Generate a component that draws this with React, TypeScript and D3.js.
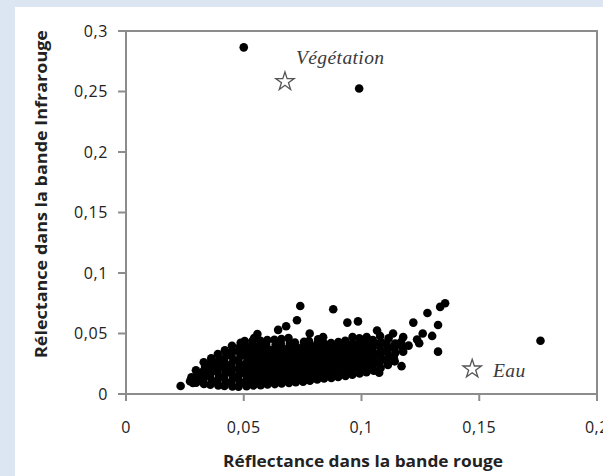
import React from "react";
import * as d3 from "d3";

const W = 603;
const H = 476;

const xTicks = [0, 0.05, 0.1, 0.15, 0.2];
const xTickLabels = ["0", "0,05", "0,1", "0,15", "0,2"];
const yTicks = [0, 0.05, 0.1, 0.15, 0.2, 0.25, 0.3];
const yTickLabels = ["0", "0,05", "0,1", "0,15", "0,2", "0,25", "0,3"];

const xTitle = "Réflectance dans la bande rouge";
const yTitle = "Rélectance dans la bande Infrarouge";

// outliers
const outliers: [number, number][] = [
  [0.0500, 0.2865],
  [0.0990, 0.2525],
  [0.1760, 0.0440],
];

// annotations (stars)
const starNames = ["Végétation", "Eau"];
const starX = [0.0675, 0.1470];
const starY = [0.2590, 0.0215];

// dense cloud of pixels
const cluster: [number, number][] = [
  [0.0232,0.0066],
  [0.0272,0.0105],[0.0278,0.0138],[0.0284,0.0092],
  [0.0298,0.0094],[0.0303,0.0128],[0.0306,0.0163],[0.0297,0.0196],
  [0.0331,0.0083],[0.0327,0.0118],[0.0335,0.0154],[0.0329,0.0190],[0.0336,0.0226],[0.0330,0.0262],
  [0.0358,0.0076],[0.0364,0.0111],[0.0356,0.0147],[0.0361,0.0184],[0.0366,0.0221],[0.0359,0.0257],[0.0362,0.0296],
  [0.0392,0.0071],[0.0386,0.0106],[0.0395,0.0142],[0.0389,0.0179],[0.0391,0.0215],[0.0387,0.0251],[0.0396,0.0289],[0.0390,0.0331],
  [0.0418,0.0066],[0.0423,0.0101],[0.0416,0.0137],[0.0425,0.0173],[0.0419,0.0210],[0.0421,0.0247],[0.0417,0.0284],[0.0426,0.0321],[0.0420,0.0362],
  [0.0452,0.0062],[0.0447,0.0098],[0.0455,0.0134],[0.0449,0.0170],[0.0451,0.0207],[0.0446,0.0243],[0.0456,0.0280],[0.0448,0.0317],[0.0453,0.0354],[0.0450,0.0398],
  [0.0478,0.0061],[0.0484,0.0096],[0.0476,0.0131],[0.0485,0.0167],[0.0479,0.0204],[0.0482,0.0240],[0.0477,0.0277],[0.0486,0.0314],[0.0480,0.0351],[0.0483,0.0389],[0.0487,0.0424],
  [0.0512,0.0064],[0.0507,0.0100],[0.0515,0.0136],[0.0509,0.0172],[0.0511,0.0208],[0.0506,0.0245],[0.0516,0.0282],[0.0508,0.0319],[0.0513,0.0356],[0.0510,0.0394],[0.0504,0.0438],
  [0.0541,0.0070],[0.0536,0.0106],[0.0544,0.0143],[0.0539,0.0180],[0.0542,0.0216],[0.0535,0.0253],[0.0545,0.0290],[0.0538,0.0327],[0.0543,0.0363],[0.0540,0.0400],[0.0537,0.0437],[0.0544,0.0462],
  [0.0572,0.0072],[0.0567,0.0108],[0.0575,0.0145],[0.0569,0.0182],[0.0573,0.0219],[0.0566,0.0256],[0.0576,0.0292],[0.0570,0.0330],[0.0574,0.0366],[0.0568,0.0404],[0.0571,0.0440],[0.0558,0.0495],
  [0.0601,0.0078],[0.0596,0.0113],[0.0604,0.0150],[0.0598,0.0187],[0.0603,0.0224],[0.0597,0.0260],[0.0605,0.0297],[0.0599,0.0334],[0.0602,0.0371],[0.0595,0.0408],[0.0600,0.0445],
  [0.0632,0.0082],[0.0627,0.0118],[0.0634,0.0155],[0.0629,0.0192],[0.0633,0.0229],[0.0626,0.0265],[0.0635,0.0302],[0.0628,0.0339],[0.0631,0.0376],[0.0636,0.0412],[0.0630,0.0448],
  [0.0661,0.0088],[0.0656,0.0124],[0.0664,0.0161],[0.0658,0.0198],[0.0663,0.0234],[0.0655,0.0271],[0.0665,0.0308],[0.0659,0.0345],[0.0662,0.0381],[0.0657,0.0418],[0.0660,0.0455],[0.0646,0.0530],[0.0680,0.0560],
  [0.0692,0.0091],[0.0687,0.0127],[0.0694,0.0164],[0.0689,0.0200],[0.0693,0.0237],[0.0686,0.0274],[0.0695,0.0311],[0.0688,0.0347],[0.0691,0.0384],[0.0696,0.0421],[0.0690,0.0462],
  [0.0721,0.0097],[0.0716,0.0133],[0.0724,0.0170],[0.0718,0.0206],[0.0723,0.0243],[0.0715,0.0279],[0.0725,0.0316],[0.0719,0.0352],[0.0722,0.0389],[0.0717,0.0426],[0.0726,0.0610],
  [0.0752,0.0101],[0.0747,0.0137],[0.0754,0.0174],[0.0749,0.0210],[0.0753,0.0247],[0.0746,0.0283],[0.0755,0.0320],[0.0748,0.0356],[0.0751,0.0393],[0.0756,0.0432],[0.0740,0.0727],
  [0.0781,0.0110],[0.0776,0.0146],[0.0784,0.0182],[0.0778,0.0219],[0.0783,0.0255],[0.0775,0.0292],[0.0785,0.0328],[0.0779,0.0365],[0.0782,0.0401],[0.0777,0.0438],[0.0780,0.0500],
  [0.0812,0.0120],[0.0807,0.0156],[0.0814,0.0192],[0.0809,0.0228],[0.0813,0.0264],[0.0806,0.0300],[0.0815,0.0337],[0.0808,0.0373],[0.0811,0.0410],[0.0816,0.0452],
  [0.0841,0.0128],[0.0836,0.0164],[0.0844,0.0200],[0.0838,0.0236],[0.0843,0.0272],[0.0835,0.0308],[0.0845,0.0344],[0.0839,0.0380],[0.0842,0.0417],[0.0837,0.0470],
  [0.0872,0.0133],[0.0867,0.0169],[0.0874,0.0205],[0.0869,0.0241],[0.0873,0.0277],[0.0866,0.0313],[0.0875,0.0349],[0.0868,0.0385],[0.0871,0.0422],[0.0880,0.0700],
  [0.0901,0.0140],[0.0896,0.0176],[0.0904,0.0212],[0.0898,0.0248],[0.0903,0.0284],[0.0895,0.0320],[0.0905,0.0356],[0.0899,0.0392],[0.0902,0.0430],
  [0.0932,0.0150],[0.0927,0.0186],[0.0934,0.0222],[0.0929,0.0258],[0.0933,0.0294],[0.0926,0.0330],[0.0935,0.0366],[0.0928,0.0403],[0.0931,0.0440],[0.0940,0.0590],
  [0.0961,0.0160],[0.0956,0.0196],[0.0964,0.0232],[0.0958,0.0268],[0.0963,0.0304],[0.0955,0.0340],[0.0965,0.0376],[0.0959,0.0412],[0.0962,0.0470],
  [0.0992,0.0170],[0.0987,0.0206],[0.0994,0.0242],[0.0989,0.0278],[0.0993,0.0314],[0.0986,0.0350],[0.0995,0.0386],[0.0988,0.0422],[0.0991,0.0460],[0.0985,0.0600],
  [0.1021,0.0180],[0.1016,0.0216],[0.1024,0.0252],[0.1018,0.0288],[0.1023,0.0324],[0.1015,0.0360],[0.1025,0.0396],[0.1019,0.0432],[0.1022,0.0470],
  [0.1052,0.0192],[0.1047,0.0228],[0.1054,0.0264],[0.1049,0.0300],[0.1053,0.0336],[0.1046,0.0372],[0.1055,0.0408],[0.1048,0.0445],[0.1066,0.0525],
  [0.1075,0.0176],[0.1081,0.0215],[0.1076,0.0250],[0.1084,0.0286],[0.1078,0.0322],[0.1083,0.0358],[0.1077,0.0394],[0.1082,0.0430],[0.1079,0.0480],
  [0.1112,0.0240],[0.1107,0.0276],[0.1114,0.0312],[0.1109,0.0348],[0.1113,0.0384],[0.1106,0.0420],[0.1115,0.0460],
  [0.1134,0.0500],[0.1141,0.0270],[0.1137,0.0306],[0.1144,0.0342],[0.1139,0.0380],[0.1143,0.0416],
  [0.1170,0.0230],[0.1177,0.0350],[0.1172,0.0390],[0.1177,0.0470],[0.1168,0.0430],
  [0.1200,0.0400],[0.1220,0.0590],[0.1236,0.0450],[0.1260,0.0500],[0.1245,0.0420],[0.1280,0.0670],
  [0.1325,0.0570],[0.1325,0.0350],[0.1334,0.0720],[0.1355,0.0750],[0.1300,0.0480],
];

const AXIS = "#8c8c8c";
const TXT = "#222";

export default function App() {
  const x = d3.scaleLinear().domain([0, 0.2]).range([126, 597]);
  const y = d3.scaleLinear().domain([0, 0.3]).range([394, 31]);
  const star = d3.symbol().type(d3.symbolStar).size(105)() as string;
  const allPts = [...cluster, ...outliers];
  const tickFont = "'Open Sans', 'DejaVu Sans', sans-serif";

  return (
    <div style={{ position: "fixed", left: 0, top: 0, width: W, height: H, overflow: "hidden" }}>
      <svg width={W} height={H} style={{ display: "block" }}>
        <rect x={0} y={0} width={W} height={H} fill="#dce6f2" />
        <rect x={15} y={7} width={W - 15} height={H - 7} fill="#ffffff" />

        {/* frame */}
        <line x1={118} x2={x(0.2) + 1} y1={y(0.3)} y2={y(0.3)} stroke={AXIS} strokeWidth={2} />
        <line x1={x(0.2)} x2={x(0.2)} y1={y(0.3)} y2={y(0) + 7} stroke={AXIS} strokeWidth={2} />
        <line x1={x(0)} x2={x(0)} y1={y(0.3)} y2={y(0) + 7} stroke={AXIS} strokeWidth={2} />
        <line x1={118} x2={x(0.2)} y1={y(0)} y2={y(0)} stroke={AXIS} strokeWidth={2} />
        {yTicks.map((t) => (
          <line key={"yt" + t} x1={118} x2={x(0)} y1={y(t)} y2={y(t)} stroke={AXIS} strokeWidth={2} />
        ))}
        {xTicks.map((t) => (
          <line key={"xt" + t} x1={x(t)} x2={x(t)} y1={y(0)} y2={y(0) + 7} stroke={AXIS} strokeWidth={2} />
        ))}

        {yTicks.map((t, i) => (
          <text key={"yl" + t} x={108} y={y(t) + 5.5} textAnchor="end" fontFamily={tickFont} fontSize={16} letterSpacing={0.6} fill={TXT}>
            {yTickLabels[i]}
          </text>
        ))}
        {xTicks.map((t, i) => (
          <text key={"xl" + t} x={x(t)} y={433} textAnchor="middle" fontFamily={tickFont} fontSize={16} letterSpacing={0.6} fill={TXT}>
            {xTickLabels[i]}
          </text>
        ))}

        <text x={363} y={467} textAnchor="middle" fontFamily={tickFont} fontSize={16.5} fontWeight="bold" fill={TXT} textLength={280} lengthAdjust="spacingAndGlyphs">
          {xTitle}
        </text>
        <text transform={`translate(47,194) rotate(-90)`} textAnchor="middle" fontFamily={tickFont} fontSize={16.5} fontWeight="bold" fill={TXT} textLength={328} lengthAdjust="spacingAndGlyphs">
          {yTitle}
        </text>

        {allPts.map((d, i) => (
          <circle key={"p" + i} cx={x(d[0])} cy={y(d[1])} r={4.3} fill="#000" />
        ))}

        {starNames.map((n, i) => (
          <g key={n}>
            <path d={star} transform={`translate(${x(starX[i])},${y(starY[i]) + 1})`} fill="none" stroke="#555" strokeWidth={1.3} />
          </g>
        ))}
        <text x={296} y={64} fontFamily="'Liberation Serif', 'DejaVu Serif', serif" fontStyle="italic" fontSize={19.5} fill="#3a3a3a" letterSpacing={0.4}>
          {starNames[0]}
        </text>
        <text x={493} y={377} fontFamily="'Liberation Serif', 'DejaVu Serif', serif" fontStyle="italic" fontSize={19.5} fill="#3a3a3a" letterSpacing={0.4}>
          {starNames[1]}
        </text>
      </svg>
    </div>
  );
}
